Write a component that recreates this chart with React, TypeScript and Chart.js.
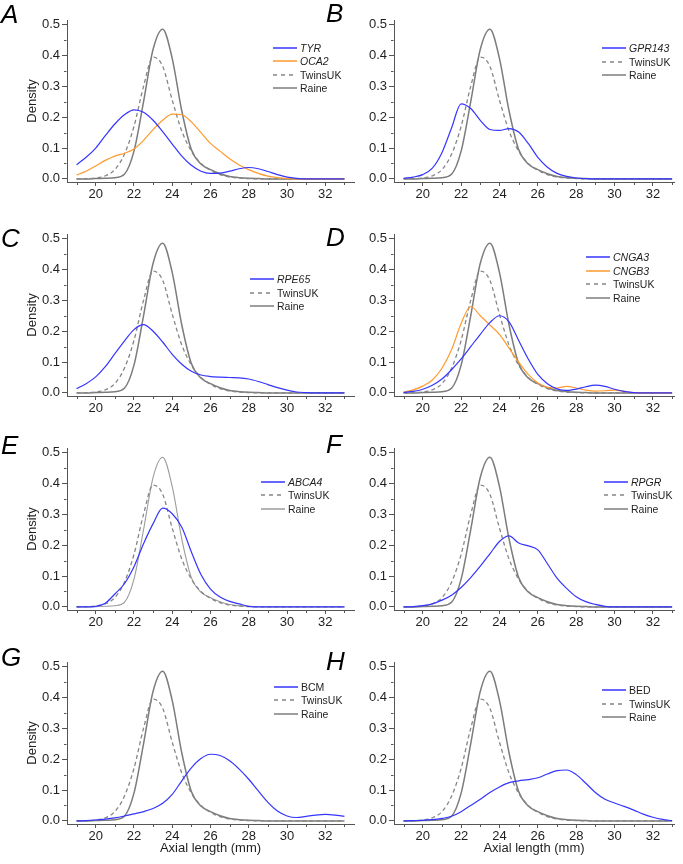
import React, { useEffect, useRef } from "react";
import { Chart, registerables } from "chart.js";

Chart.register(...registerables);

// ---------- data ----------
const axialLength = [19, 19.5, 20, 20.5, 21, 21.5, 22, 22.5, 23, 23.5, 24, 24.5, 25, 25.5, 26, 26.5, 27, 27.5, 28, 28.5, 29, 29.5, 30, 30.5, 31, 31.5, 32, 32.5, 33];

const twinsUK = [0, 0.001, 0.003, 0.01, 0.03, 0.08, 0.17, 0.3, 0.395, 0.365, 0.255, 0.155, 0.09, 0.05, 0.028, 0.014, 0.006, 0.003, 0.001, 0, 0, 0, 0, 0, 0, 0, 0, 0, 0];
const raine = [0, 0, 0.001, 0.002, 0.004, 0.015, 0.09, 0.25, 0.42, 0.485, 0.39, 0.22, 0.095, 0.048, 0.03, 0.017, 0.008, 0.004, 0.002, 0.001, 0, 0, 0, 0, 0, 0, 0, 0, 0];

const tyr = [0.046, 0.07, 0.1, 0.14, 0.178, 0.208, 0.224, 0.216, 0.19, 0.153, 0.113, 0.074, 0.044, 0.025, 0.018, 0.019, 0.025, 0.033, 0.037, 0.033, 0.024, 0.014, 0.006, 0.002, 0, 0, 0, 0, 0];
const oca2 = [0.013, 0.025, 0.042, 0.06, 0.074, 0.083, 0.097, 0.125, 0.16, 0.19, 0.21, 0.208, 0.185, 0.15, 0.115, 0.09, 0.065, 0.045, 0.03, 0.018, 0.009, 0.004, 0.001, 0, 0, 0, 0, 0, 0];
const gpr143 = [0.002, 0.006, 0.014, 0.035, 0.085, 0.165, 0.243, 0.228, 0.19, 0.16, 0.157, 0.163, 0.152, 0.115, 0.07, 0.038, 0.018, 0.008, 0.003, 0.001, 0, 0, 0, 0, 0, 0, 0, 0, 0];
const rpe65 = [0.014, 0.03, 0.052, 0.085, 0.127, 0.168, 0.205, 0.221, 0.2, 0.165, 0.125, 0.093, 0.07, 0.058, 0.053, 0.051, 0.05, 0.049, 0.045, 0.037, 0.027, 0.017, 0.009, 0.003, 0.001, 0, 0, 0, 0];
const cnga3 = [0.002, 0.005, 0.012, 0.025, 0.045, 0.075, 0.11, 0.15, 0.19, 0.228, 0.25, 0.23, 0.17, 0.11, 0.06, 0.03, 0.013, 0.008, 0.012, 0.02, 0.025, 0.021, 0.012, 0.005, 0.001, 0, 0, 0, 0];
const cngb3 = [0.003, 0.01, 0.022, 0.042, 0.08, 0.14, 0.225, 0.28, 0.25, 0.22, 0.19, 0.145, 0.1, 0.06, 0.032, 0.018, 0.016, 0.021, 0.016, 0.009, 0.006, 0.007, 0.009, 0.005, 0.001, 0, 0, 0, 0];
const abca4 = [0, 0, 0.002, 0.012, 0.042, 0.075, 0.13, 0.205, 0.27, 0.32, 0.302, 0.258, 0.178, 0.105, 0.058, 0.032, 0.018, 0.01, 0.002, 0, 0, 0, 0, 0, 0, 0, 0, 0, 0];
const rpgr = [0, 0.001, 0.004, 0.01, 0.022, 0.038, 0.063, 0.095, 0.132, 0.172, 0.212, 0.23, 0.207, 0.198, 0.185, 0.14, 0.093, 0.06, 0.033, 0.017, 0.008, 0.002, 0, 0, 0, 0, 0, 0, 0];
const bcm = [0, 0.001, 0.003, 0.006, 0.01, 0.016, 0.023, 0.03, 0.04, 0.057, 0.086, 0.13, 0.172, 0.202, 0.216, 0.212, 0.195, 0.168, 0.135, 0.097, 0.06, 0.032, 0.016, 0.011, 0.015, 0.019, 0.021, 0.019, 0.015];
const bed = [0, 0.001, 0.002, 0.004, 0.008, 0.015, 0.03, 0.05, 0.07, 0.092, 0.11, 0.124, 0.13, 0.134, 0.14, 0.152, 0.163, 0.165, 0.15, 0.122, 0.092, 0.07, 0.058, 0.047, 0.035, 0.022, 0.012, 0.005, 0.001];

const xMajorTicks = [20, 22, 24, 26, 28, 30, 32];
const xMinorTicks = [19, 21, 23, 25, 27, 29, 31, 33];
const yMajorTicks = [0, 0.1, 0.2, 0.3, 0.4, 0.5];
const yMinorTicks = [0.05, 0.15, 0.25, 0.35, 0.45];

// ---------- styles ----------
const FONT = "'Liberation Sans', Arial, Helvetica, sans-serif";
const BLUE = "#3535ff";
const ORANGE = "#ff9a2e";
const GRAY = "#7c7c7c";
const GRAY_DASH = "#858585";
const AXIS = "#555555";
const TEXT = "#1e1e1e";

type SeriesDef = { label: string; italic: boolean; values: number[]; color: string; width: number; dash: number[] };

const gene = (label: string, values: number[], color: string, italic = true): SeriesDef => ({ label, italic, values, color, width: 1.2, dash: [] });
const twinsSeries: SeriesDef = { label: "TwinsUK", italic: false, values: twinsUK, color: GRAY_DASH, width: 1.3, dash: [4, 3] };
const raineSeries: SeriesDef = { label: "Raine", italic: false, values: raine, color: GRAY, width: 1.5, dash: [] };
const raineLight: SeriesDef = { label: "Raine", italic: false, values: raine, color: "#9c9c9c", width: 1.1, dash: [] };

type PanelDef = {
  letter: string; row: number; col: number; series: SeriesDef[];
  legendX: number; legendY: number; letterTop: number;
};

const panels: PanelDef[] = [
  { letter: "A", row: 0, col: 0, series: [gene("TYR", tyr, BLUE), gene("OCA2", oca2, ORANGE), twinsSeries, raineSeries], legendX: 273, legendY: 47.5, letterTop: 0.7 },
  { letter: "B", row: 0, col: 1, series: [gene("GPR143", gpr143, BLUE), twinsSeries, raineSeries], legendX: 602, legendY: 48.3, letterTop: 0 },
  { letter: "C", row: 1, col: 0, series: [gene("RPE65", rpe65, BLUE), twinsSeries, raineSeries], legendX: 250, legendY: 279, letterTop: 225 },
  { letter: "D", row: 1, col: 1, series: [gene("CNGA3", cnga3, BLUE), gene("CNGB3", cngb3, ORANGE), twinsSeries, raineSeries], legendX: 586, legendY: 257.3, letterTop: 224 },
  { letter: "E", row: 2, col: 0, series: [gene("ABCA4", abca4, BLUE), twinsSeries, raineLight], legendX: 261, legendY: 481.7, letterTop: 432 },
  { letter: "F", row: 2, col: 1, series: [gene("RPGR", rpgr, BLUE), twinsSeries, raineSeries], legendX: 604, legendY: 481.7, letterTop: 431 },
  { letter: "G", row: 3, col: 0, series: [gene("BCM", bcm, BLUE, false), twinsSeries, raineSeries], legendX: 274, legendY: 686.7, letterTop: 644 },
  { letter: "H", row: 3, col: 1, series: [gene("BED", bed, BLUE, false), twinsSeries, raineSeries], legendX: 602, legendY: 690, letterTop: 648 },
];

const minorTicksPlugin = {
  id: "minorTicks",
  afterDraw(chart: any) {
    const { ctx, scales } = chart;
    const x = scales.x, y = scales.y;
    ctx.save();
    ctx.strokeStyle = AXIS;
    ctx.lineWidth = 1;
    ctx.beginPath();
    const bottom = Math.round(chart.chartArea.bottom) + 0.5;
    for (const v of xMinorTicks) {
      if (v < x.min || v > x.max) continue;
      const px = Math.round(x.getPixelForValue(v)) + 0.5;
      ctx.moveTo(px, bottom);
      ctx.lineTo(px, bottom + 2.5);
    }
    const left = Math.round(chart.chartArea.left) - 0.5;
    for (const v of yMinorTicks) {
      const py = Math.round(y.getPixelForValue(v)) + 0.5;
      ctx.moveTo(left, py);
      ctx.lineTo(left - 2.5, py);
    }
    ctx.stroke();
    ctx.restore();
  },
};

function Panel({ p }: { p: PanelDef }) {
  const ref = useRef<HTMLCanvasElement>(null);
  const isLeft = p.col === 0;
  const isBottom = p.row === 3;
  const cLeft = isLeft ? 0 : 341;
  const cWidth = isLeft ? 360 : 342;
  const cTop = p.row * 214;
  const cHeight = isBottom ? 222 : 214;

  useEffect(() => {
    const chart = new Chart(ref.current as HTMLCanvasElement, {
      type: "line",
      data: {
        datasets: p.series.map((s) => ({
          label: s.label,
          data: axialLength.map((x, i) => ({ x, y: s.values[i] })),
          borderColor: s.color,
          borderWidth: s.width,
          borderDash: s.dash,
          pointRadius: 0,
          fill: false,
          cubicInterpolationMode: "monotone" as const,
        })),
      },
      options: {
        animation: false,
        responsive: false,
        maintainAspectRatio: false,
        devicePixelRatio: 1,
        layout: {
          padding: {
            left: isLeft ? 21 : 7,
            right: isLeft ? 6 : 9,
            top: 20,
            bottom: isBottom ? 0 : 7,
          },
        },
        plugins: { legend: { display: false }, tooltip: { enabled: false } },
        scales: {
          x: {
            type: "linear",
            min: 18.5,
            max: isLeft ? 33.5 : 33.1,
            afterBuildTicks: (scale: any) => {
              scale.ticks = xMajorTicks.map((v) => ({ value: v }));
            },
            afterFit: (scale: any) => {
              scale.height = isBottom ? 40 : 25;
            },
            grid: { display: true, drawOnChartArea: false, drawTicks: true, tickLength: 4, tickColor: AXIS, tickWidth: 1 },
            border: { display: true, color: AXIS, width: 1 },
            ticks: {
              padding: 1,
              color: TEXT,
              font: { family: FONT, size: 13 },
              maxRotation: 0,
              autoSkip: false,
              callback: (v: any) => String(v),
            },
            title: {
              display: isBottom,
              text: "Axial length (mm)",
              color: TEXT,
              font: { family: FONT, size: 13 },
              padding: { top: 0, bottom: 8 },
            },
          },
          y: {
            type: "linear",
            min: -0.01,
            max: 0.515,
            afterBuildTicks: (scale: any) => {
              scale.ticks = yMajorTicks.map((v) => ({ value: v }));
            },
            afterFit: (scale: any) => {
              scale.width = 46;
            },
            grid: { display: true, drawOnChartArea: false, drawTicks: true, tickLength: 5, tickColor: AXIS, tickWidth: 1 },
            border: { display: true, color: AXIS, width: 1 },
            ticks: {
              padding: 2,
              color: TEXT,
              font: { family: FONT, size: 13 },
              autoSkip: false,
              callback: (v: any) => Number(v).toFixed(1),
            },
            title: {
              display: isLeft,
              text: "Density",
              color: TEXT,
              font: { family: FONT, size: 13 },
              padding: { top: 4, bottom: 0 },
            },
          },
        },
      },
      plugins: [minorTicksPlugin],
    } as any);
    return () => chart.destroy();
  }, []);

  return (
    <canvas
      ref={ref}
      width={cWidth}
      height={cHeight}
      style={{ position: "absolute", left: cLeft, top: cTop, width: cWidth, height: cHeight }}
    />
  );
}

function Legend({ p }: { p: PanelDef }) {
  return (
    <>
      {p.series.map((s, i) => (
        <div
          key={i}
          style={{
            position: "absolute",
            left: p.legendX,
            top: p.legendY + i * 13.5 - 7,
            height: 14,
            display: "flex",
            alignItems: "center",
            whiteSpace: "nowrap",
          }}
        >
          <svg width={24} height={14} style={{ display: "block" }}>
            <line
              x1={0}
              x2={24}
              y1={7}
              y2={7}
              stroke={s.color}
              strokeWidth={s.dash.length ? 1.3 : 1.5}
              strokeDasharray={s.dash.length ? "4 4" : undefined}
            />
          </svg>
          <span
            style={{
              marginLeft: 3,
              fontFamily: FONT,
              fontSize: 10.5,
              lineHeight: "14px",
              fontStyle: s.italic ? "italic" : "normal",
              color: TEXT,
            }}
          >
            {s.label}
          </span>
        </div>
      ))}
    </>
  );
}

export default function App() {
  return (
    <div style={{ position: "absolute", left: 0, top: 0, width: 683, height: 864, background: "#fff", overflow: "hidden" }}>
      {panels.map((p) => (
        <Panel key={p.letter} p={p} />
      ))}
      {panels.map((p) => (
        <Legend key={"l" + p.letter} p={p} />
      ))}
      {panels.map((p) => (
        <div
          key={"t" + p.letter}
          style={{
            position: "absolute",
            left: p.col === 0 ? 1 : 326,
            top: p.letterTop,
            fontFamily: FONT,
            fontStyle: "italic",
            fontSize: 26,
            lineHeight: "26px",
            color: "#000",
          }}
        >
          {p.letter}
        </div>
      ))}
    </div>
  );
}
